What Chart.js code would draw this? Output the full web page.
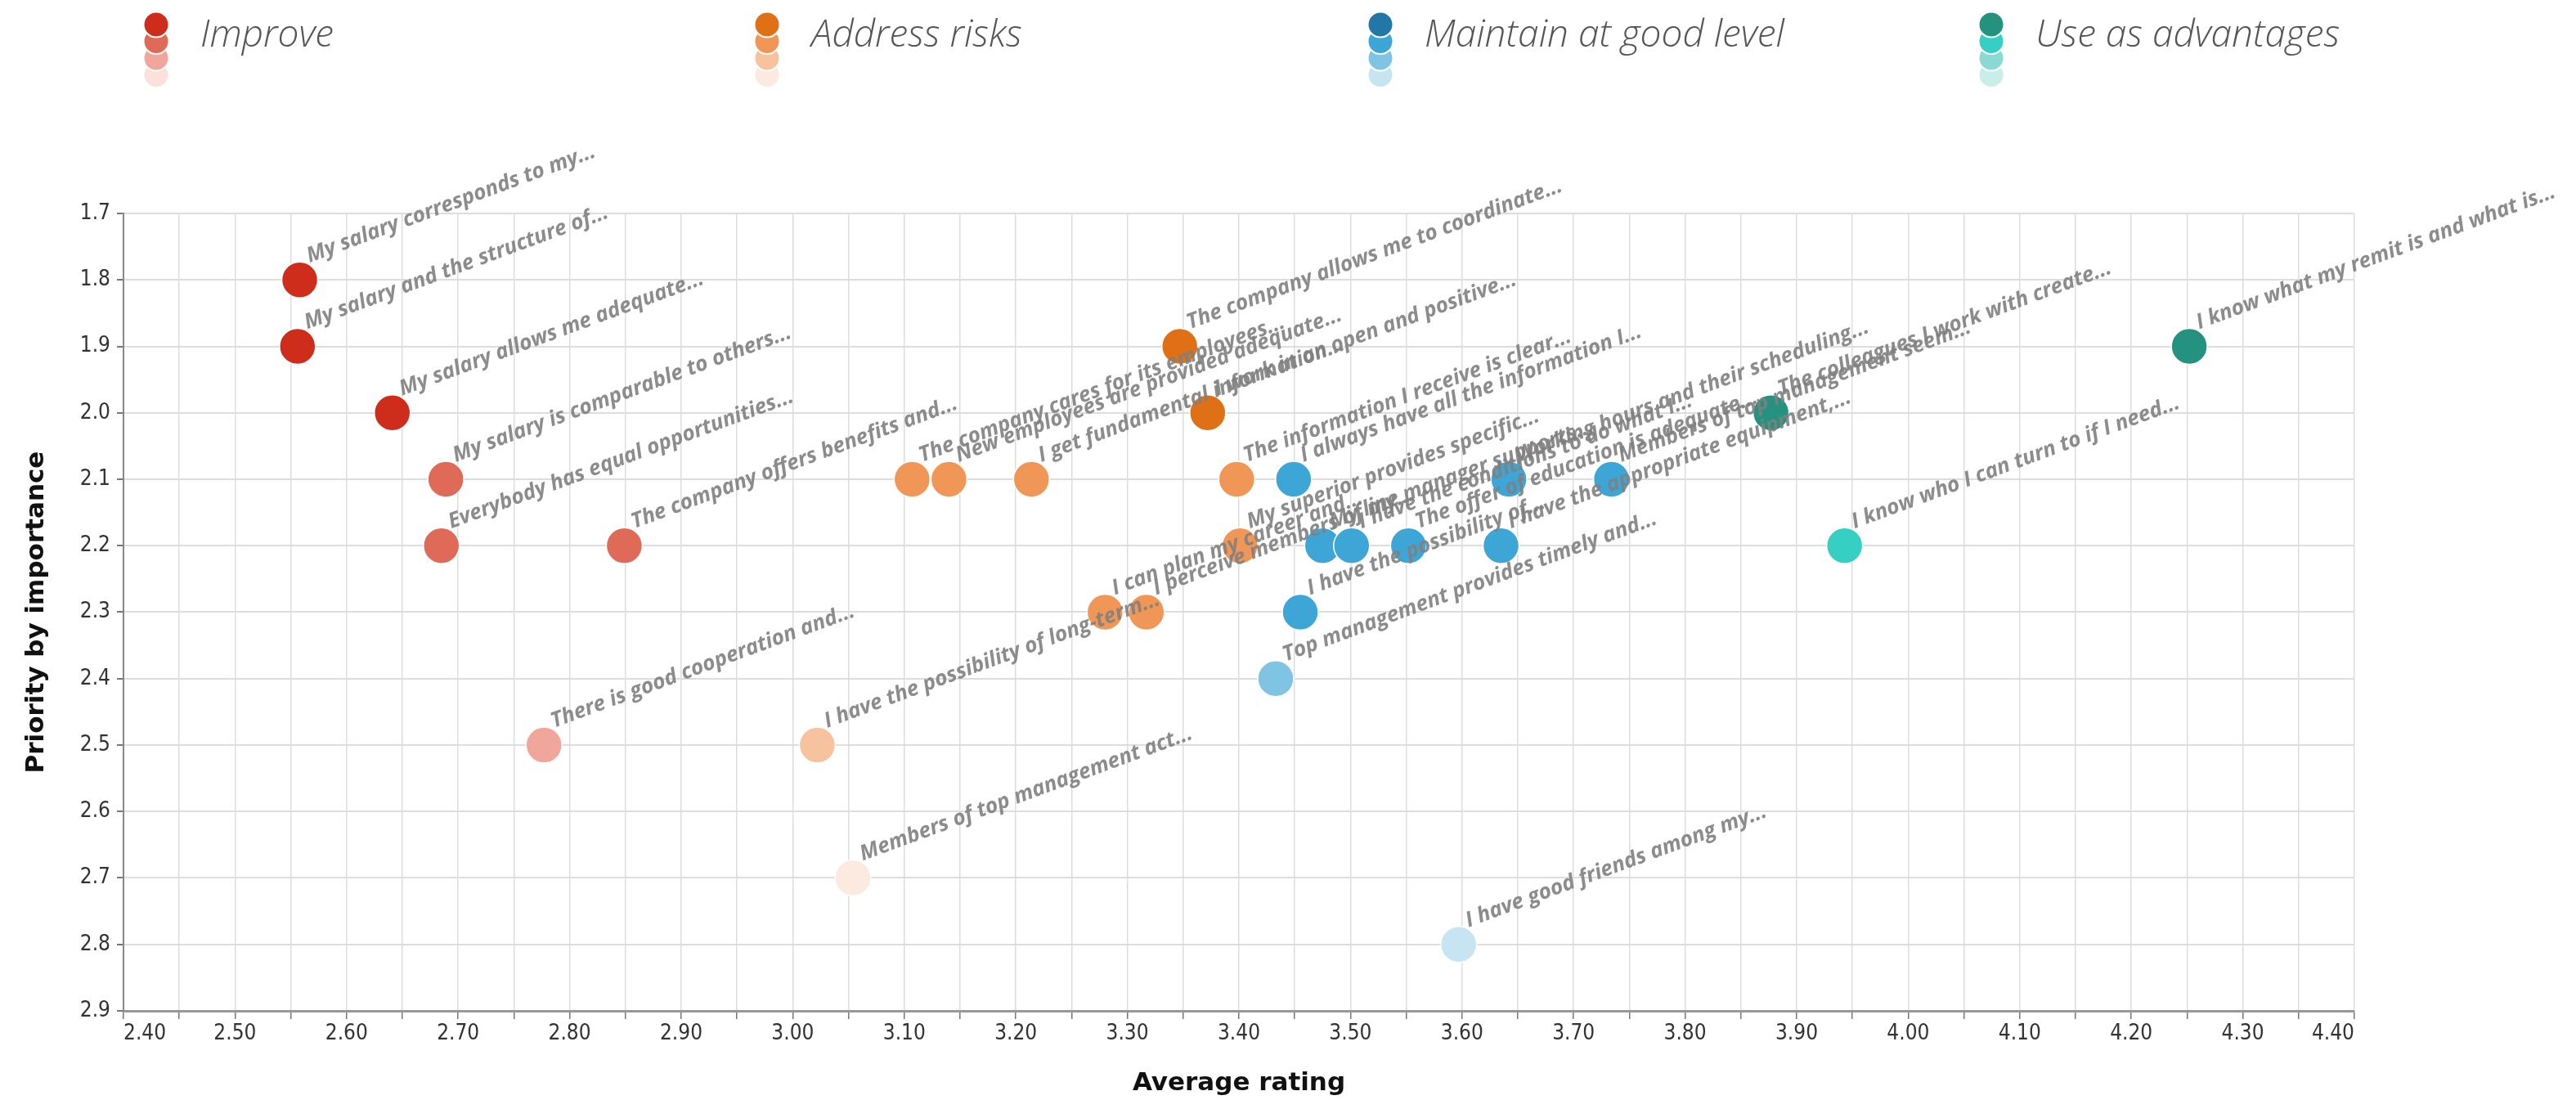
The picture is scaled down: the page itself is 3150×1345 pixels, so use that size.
<!DOCTYPE html>
<html>
<head>
<meta charset="utf-8">
<title>Priority matrix</title>
<script src="https://cdn.jsdelivr.net/npm/chart.js@4.4.1/dist/chart.umd.min.js"></script>
<style>
  html, body { margin: 0; padding: 0; background: #fff; }
  #matrix { display: block; }
</style>
</head>
<body>
<canvas id="matrix" width="3150" height="1345" style="width:3150px;height:1345px"></canvas>
<script>
/* Group names shown in the legend. */
let groupNames = ["Improve", "Address risks", "Maintain at good level", "Use as advantages"];

/* Improve */
let improveRating = [2.558, 2.556, 2.641, 2.689, 2.685, 2.849, 2.777];
let improvePriority = [1.8, 1.9, 2.0, 2.1, 2.2, 2.2, 2.5];
let improveLabels = [
  "My salary corresponds to my...",
  "My salary and the structure of...",
  "My salary allows me adequate...",
  "My salary is comparable to others...",
  "Everybody has equal opportunities...",
  "The company offers benefits and...",
  "There is good cooperation and...",
];

/* Address risks */
let riskRating = [3.347, 3.372, 3.107, 3.140, 3.214, 3.398, 3.401, 3.280, 3.317, 3.022, 3.054];
let riskPriority = [1.9, 2.0, 2.1, 2.1, 2.1, 2.1, 2.2, 2.3, 2.3, 2.5, 2.7];
let riskLabels = [
  "The company allows me to coordinate...",
  "I work in an open and positive...",
  "The company cares for its employees...",
  "New employees are provided adequate...",
  "I get fundamental information...",
  "The information I receive is clear...",
  "My superior provides specific...",
  "I can plan my career and...",
  "I perceive members of my...",
  "I have the possibility of long-term...",
  "Members of top management act...",
];

/* Maintain at good level */
let maintainRating = [3.449, 3.642, 3.734, 3.475, 3.501, 3.552, 3.635, 3.455, 3.433, 3.597];
let maintainPriority = [2.1, 2.1, 2.1, 2.2, 2.2, 2.2, 2.2, 2.3, 2.4, 2.8];
let maintainLabels = [
  "I always have all the information I...",
  "Working hours and their scheduling...",
  "Members of top management seem...",
  "My line manager supports...",
  "I have the conditions to do what I...",
  "The offer of education is adequate...",
  "I have the appropriate equipment,...",
  "I have the possibility of...",
  "Top management provides timely and...",
  "I have good friends among my...",
];

/* Use as advantages */
let advantageRating = [4.252, 3.877, 3.943];
let advantagePriority = [1.9, 2.0, 2.2];
let advantageLabels = [
  "I know what my remit is and what is...",
  "The colleagues I work with create...",
  "I know who I can turn to if I need...",
];

/* Four shades per group, darkest first. */
let palettes = [
  ["#cf2d1c", "#e06a58", "#f0a69b", "#fbe0db"],
  ["#e07016", "#f09656", "#f7c39e", "#fce9df"],
  ["#2178a6", "#3ea6d6", "#80c4e4", "#c6e4f2"],
  ["#24927f", "#36cfc3", "#8adad3", "#c9eeea"],
];

/* Shade of a point depends on how high its priority is. */
function shadeIndex(priority) {
  if (priority <= 2.05) return 0;
  if (priority <= 2.35) return 1;
  if (priority <= 2.55) return 2;
  return 3;
}

function makeDataset(name, ratings, priorities, labels, palette) {
  return {
    label: name,
    data: ratings.map((r, i) => ({ x: r, y: priorities[i] })),
    statements: labels,
    backgroundColor: priorities.map((p) => palette[shadeIndex(p)]),
    borderColor: "#ffffff",
    borderWidth: 1.5,
    pointRadius: 22,
    pointHoverRadius: 22,
  };
}

let datasets = [
  makeDataset(groupNames[0], improveRating, improvePriority, improveLabels, palettes[0]),
  makeDataset(groupNames[1], riskRating, riskPriority, riskLabels, palettes[1]),
  makeDataset(groupNames[2], maintainRating, maintainPriority, maintainLabels, palettes[2]),
  makeDataset(groupNames[3], advantageRating, advantagePriority, advantageLabels, palettes[3]),
];

/* Slanted statement text next to every point. */
let pointLabels = {
  id: "pointLabels",
  afterDatasetsDraw(chart) {
    let ctx = chart.ctx;
    ctx.save();
    ctx.font = 'italic 700 26px "Open Sans"';
    ctx.fillStyle = "rgba(128,128,128,0.9)";
    ctx.textAlign = "left";
    ctx.textBaseline = "alphabetic";
    chart.data.datasets.forEach((ds, i) => {
      chart.getDatasetMeta(i).data.forEach((pt, j) => {
        ctx.save();
        ctx.translate(pt.x + 12, pt.y - 21);
        ctx.rotate((-20.3 * Math.PI) / 180);
        ctx.fillText(ds.statements[j], 0, 0);
        ctx.restore();
      });
    });
    ctx.restore();
  },
};

/* Legend: a stack of the four shades and the group name. */
let groupLegend = {
  id: "groupLegend",
  afterDraw(chart) {
    let ctx = chart.ctx;
    let starts = [191, 938, 1688, 2435];
    ctx.save();
    groupNames.forEach((name, g) => {
      let cx = starts[g];
      for (let s = 3; s >= 0; s--) {
        ctx.beginPath();
        ctx.arc(cx, 30 + s * 20.5, 15.5, 0, Math.PI * 2);
        ctx.fillStyle = palettes[g][s];
        ctx.fill();
        ctx.lineWidth = 2;
        ctx.strokeStyle = "#ffffff";
        ctx.stroke();
      }
      ctx.font = 'italic 300 46px "Open Sans"';
      ctx.fillStyle = "#555555";
      ctx.textAlign = "left";
      ctx.textBaseline = "alphabetic";
      ctx.fillText(name, cx + 54, 57);
    });
    ctx.restore();
  },
};

let tickFont = { family: '"DejaVu Sans Condensed", "DejaVu Sans"', size: 26 };
let titleFont = { family: '"DejaVu Sans"', size: 31, weight: "bold" };

let ctx = document.querySelector("#matrix").getContext("2d");
let chart = new Chart(ctx, {
  type: "scatter",
  data: { datasets: datasets },
  options: {
    responsive: false,
    animation: false,
    devicePixelRatio: 1,
    layout: { padding: { top: 261, right: 271, bottom: 0, left: 0 } },
    plugins: {
      legend: { display: false },
      tooltip: { enabled: false },
    },
    scales: {
      x: {
        type: "linear",
        min: 2.4,
        max: 4.4,
        afterFit(scale) {
          scale.height = 109;
        },
        ticks: {
          stepSize: 0.05,
          autoSkip: false,
          maxRotation: 0,
          align: "inner",
          padding: 3,
          color: "#333333",
          font: tickFont,
          callback: (value) => (Math.round(value * 100) % 10 === 0 ? value.toFixed(2) : ""),
        },
        grid: {
          color: "#dddddd",
          lineWidth: 1.5,
          tickLength: 10,
          tickColor: "#777777",
        },
        border: { color: "#999999", width: 3 },
        title: {
          display: true,
          text: "Average rating",
          color: "#111111",
          font: titleFont,
          padding: { top: 0, bottom: 1 },
        },
      },
      y: {
        type: "linear",
        reverse: true,
        min: 1.7,
        max: 2.9,
        afterFit(scale) {
          scale.width = 151;
        },
        ticks: {
          stepSize: 0.1,
          padding: 8,
          color: "#333333",
          font: tickFont,
          callback: (value) => value.toFixed(1),
        },
        grid: {
          color: "#dddddd",
          lineWidth: 2,
          tickLength: 8,
          tickColor: "#777777",
        },
        border: { color: "#888888", width: 2 },
        title: {
          display: true,
          text: "Priority by importance",
          color: "#111111",
          font: titleFont,
          padding: { top: 26, bottom: 0 },
        },
      },
    },
  },
  plugins: [pointLabels, groupLegend],
});
</script>
</body>
</html>
